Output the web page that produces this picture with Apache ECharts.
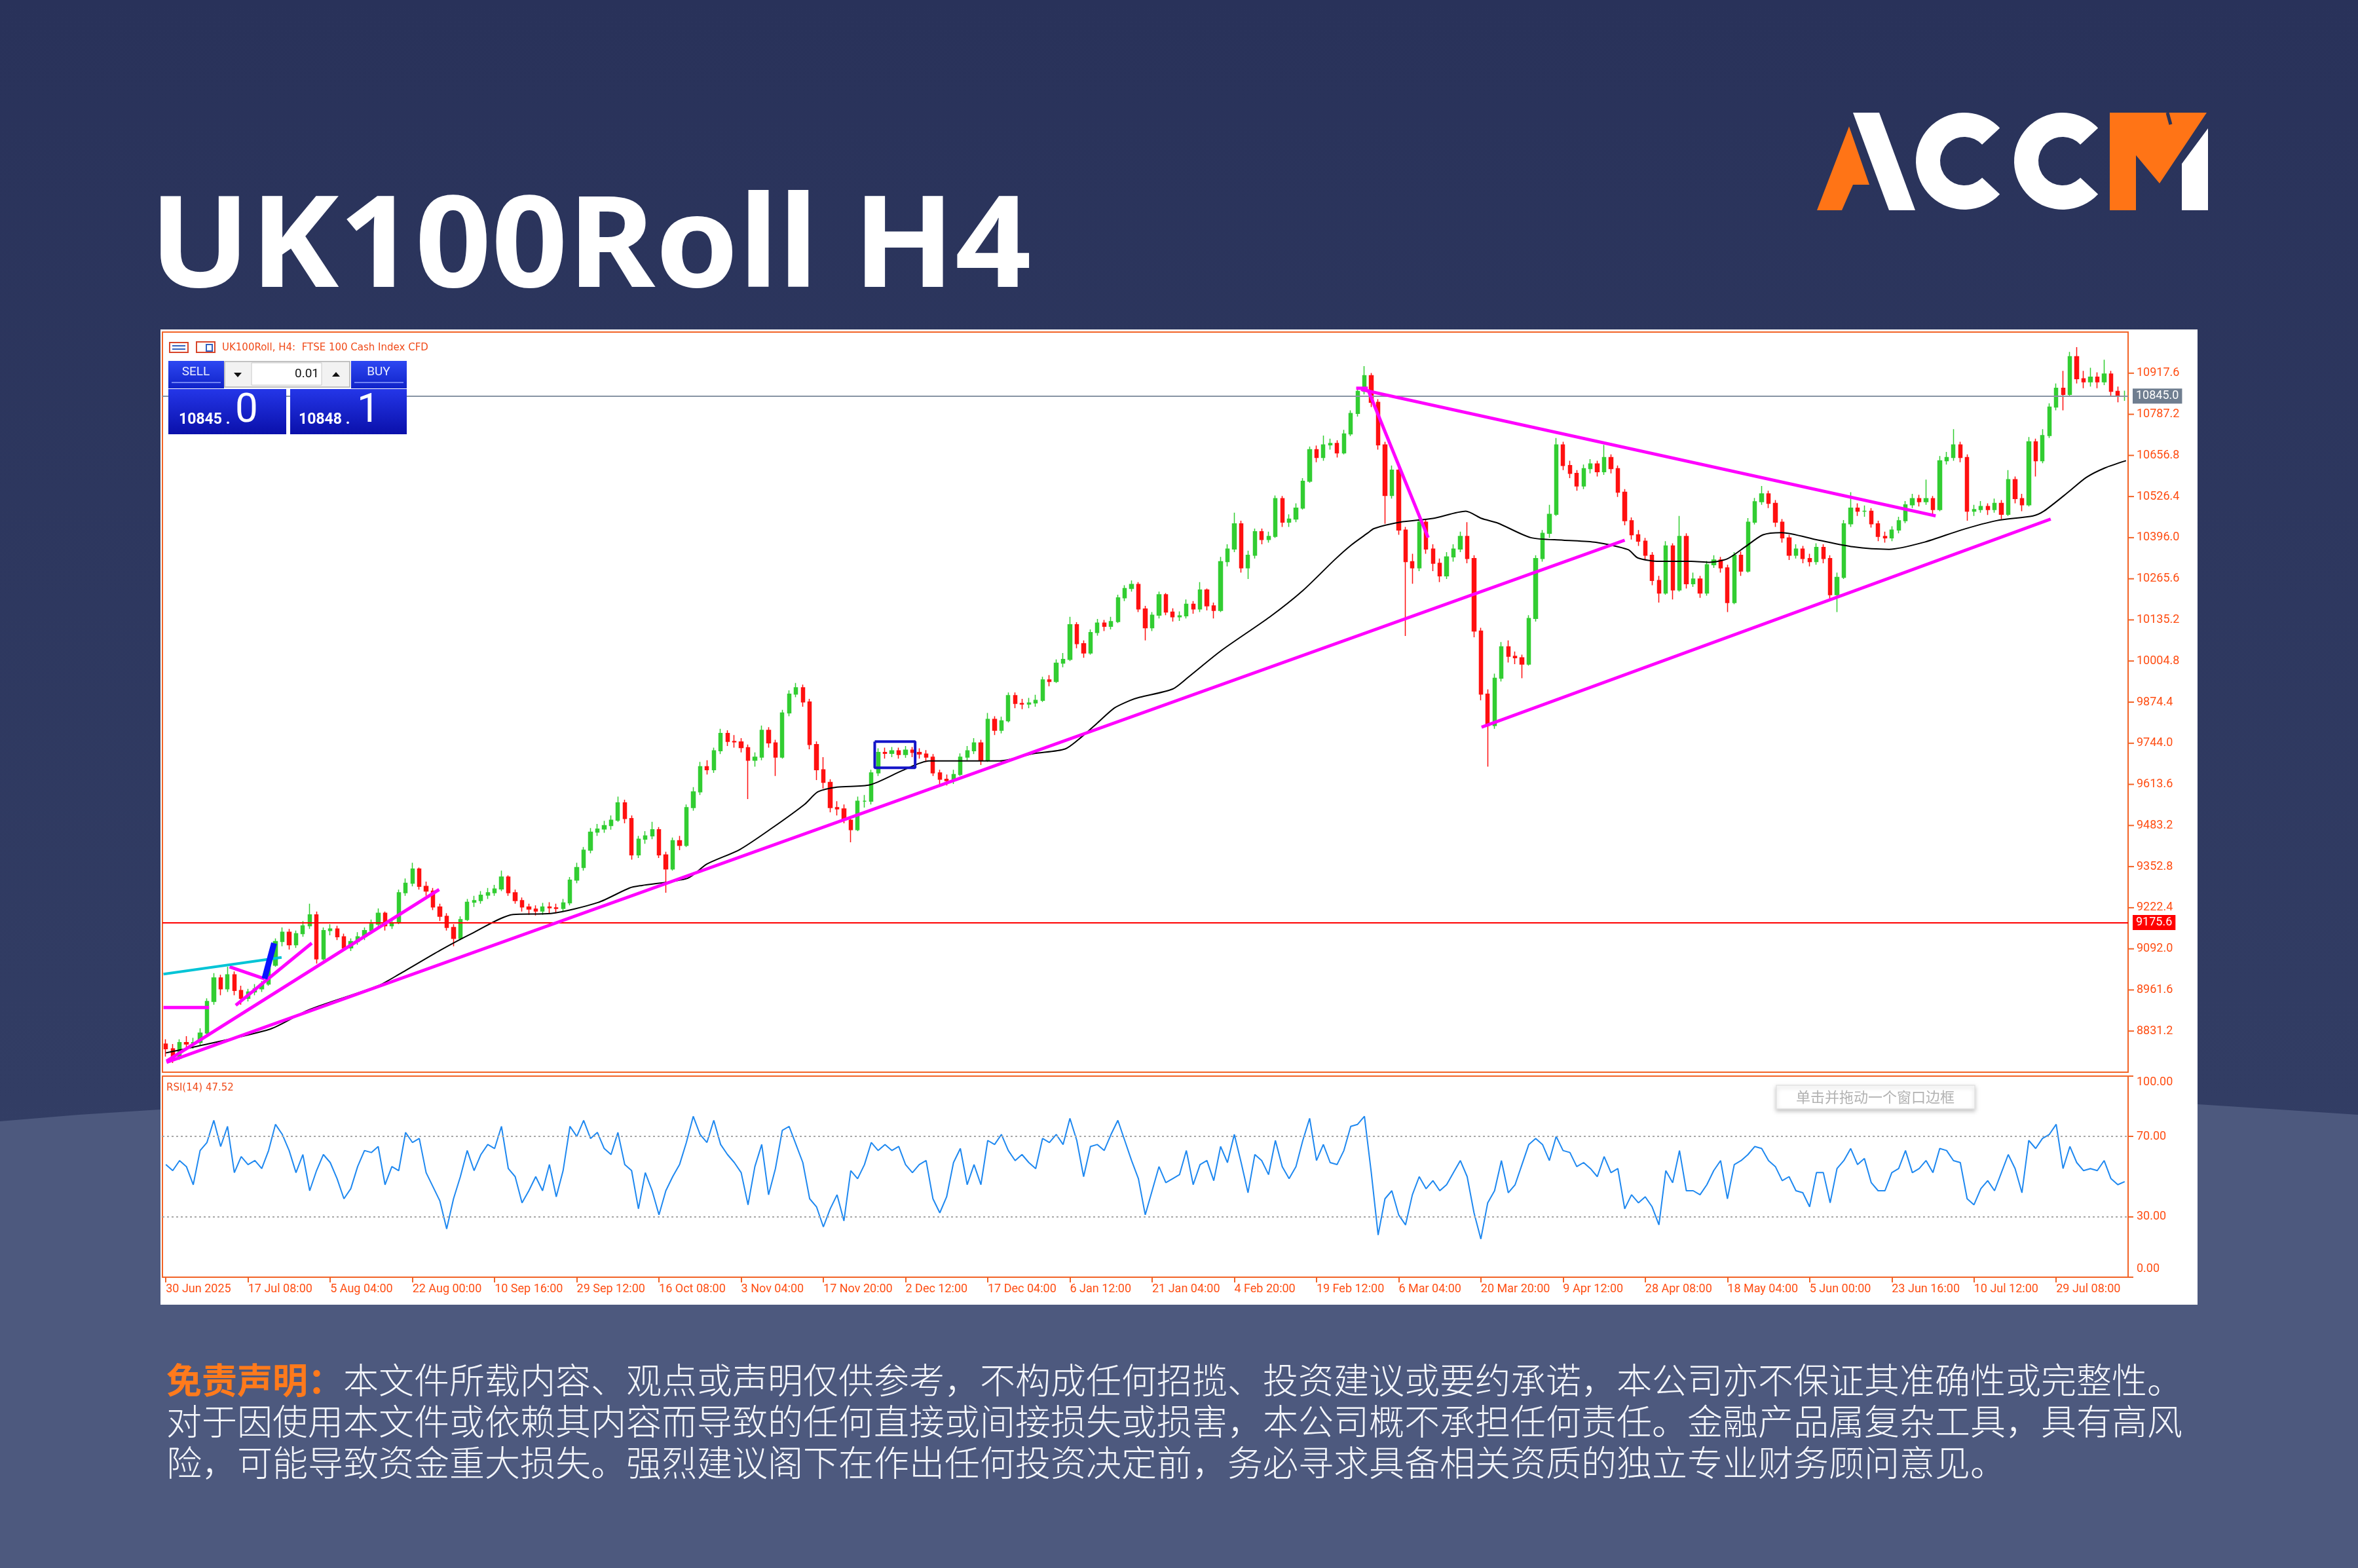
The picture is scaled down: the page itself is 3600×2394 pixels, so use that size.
<!DOCTYPE html>
<html>
<head>
<meta charset="utf-8">
<script src="https://cdn.jsdelivr.net/npm/echarts@6/dist/echarts.min.js"></script>
<style>
html, body { margin: 0; padding: 0; background: #2b3455; }
#chart { width: 3600px; height: 2394px; }
</style>
</head>
<body>
<div id="chart"></div>
<script>
// H4 candles (one bar here ~ several bars of the original)
var firstOpen = 8790;
var closes = [
  8775, 8745, 8795, 8790, 8795, 8825, 8925, 9000, 8965, 9010,
  8960, 8935, 8955, 8965, 8980, 9040, 9115, 9145, 9105, 9140,
  9165, 9200, 9060, 9150, 9155, 9130, 9095, 9115, 9130, 9150,
  9170, 9205, 9165, 9175, 9270, 9300, 9345, 9290, 9275, 9225,
  9195, 9160, 9125, 9185, 9240, 9245, 9262, 9270, 9282, 9320,
  9270, 9245, 9225, 9218, 9212, 9225, 9222, 9220, 9238, 9310,
  9350, 9405, 9462, 9472, 9483, 9500, 9555, 9505, 9390, 9440,
  9450, 9470, 9390, 9345, 9435, 9420, 9540, 9590, 9670, 9660,
  9720, 9775, 9750, 9748, 9730, 9690, 9700, 9785, 9745, 9700,
  9840, 9900, 9920, 9875, 9740, 9660, 9620, 9540, 9536, 9500,
  9470, 9560, 9560, 9650, 9715, 9712, 9720, 9708, 9722, 9715,
  9710, 9700, 9650, 9630, 9625, 9645, 9700, 9720, 9745, 9690,
  9820, 9785, 9815, 9895, 9870, 9868, 9872, 9880, 9945, 9940,
  9998, 10010, 10120, 10060, 10030, 10095, 10125, 10115, 10130, 10205,
  10235, 10248, 10170, 10110, 10150, 10215, 10160, 10145, 10148, 10185,
  10170, 10230, 10180, 10165, 10320, 10360, 10440, 10300, 10340, 10415,
  10390, 10400, 10520, 10445, 10455, 10490, 10575, 10675, 10650, 10690,
  10695, 10665, 10725, 10790, 10860, 10910, 10825, 10690, 10530, 10610,
  10420, 10320, 10300, 10445, 10360, 10315, 10275, 10335, 10360, 10400,
  10330, 10100, 9900, 9800, 9950, 10050, 10020, 10015, 9995, 10140,
  10330, 10410, 10470, 10690, 10625, 10600, 10560, 10615, 10630, 10605,
  10650, 10615, 10540, 10450, 10405, 10385, 10340, 10260, 10220, 10370,
  10230, 10400, 10250, 10265, 10220, 10310, 10325, 10300, 10190, 10340,
  10290, 10445, 10510, 10535, 10505, 10445, 10395, 10340, 10360, 10330,
  10320, 10365, 10330, 10215, 10270, 10440, 10490, 10480, 10480, 10440,
  10400, 10395, 10420, 10450, 10500, 10520, 10510, 10520, 10485, 10640,
  10650, 10690, 10650, 10480, 10485, 10495, 10485, 10505, 10470, 10580,
  10520, 10500, 10700, 10640, 10720, 10810, 10870, 10850, 10970, 10900,
  10890, 10905, 10890, 10915, 10860, 10845, 10845
];
var highs = [
  8805, 8790, 8805, 8815, 8810, 8840, 8935, 9015, 9010, 9035,
  9020, 8975, 8965, 8980, 8990, 9050, 9125, 9160, 9155, 9150,
  9180, 9235, 9210, 9160, 9170, 9165, 9140, 9125, 9145, 9160,
  9185, 9220, 9210, 9190, 9280, 9315, 9365, 9350, 9305, 9285,
  9235, 9205, 9170, 9195, 9250, 9260, 9275, 9285, 9295, 9340,
  9325, 9280, 9255, 9235, 9230, 9238, 9240, 9235, 9250, 9320,
  9365, 9415, 9475, 9488, 9498, 9515, 9575, 9565, 9515, 9450,
  9465, 9495, 9478, 9400, 9445, 9450, 9550, 9605, 9685, 9690,
  9730, 9790, 9785, 9770, 9760, 9740, 9715, 9800, 9795, 9755,
  9850, 9912, 9935, 9930, 9885, 9750, 9700, 9630, 9560, 9550,
  9510, 9575, 9580, 9660, 9728, 9730, 9732, 9730, 9735, 9732,
  9728, 9722, 9710, 9660, 9645, 9660, 9712, 9735, 9760, 9755,
  9840, 9830, 9828, 9905, 9905, 9885, 9888, 9898, 9955, 9960,
  10010, 10030, 10145, 10128, 10070, 10105, 10138, 10135, 10145, 10215,
  10245, 10260, 10255, 10180, 10160, 10225, 10220, 10172, 10162, 10200,
  10195, 10255, 10235, 10190, 10335, 10375, 10475, 10450, 10355, 10425,
  10425, 10415, 10530, 10528, 10470, 10505, 10585, 10685, 10688, 10720,
  10710, 10705, 10738, 10800, 10872, 10940, 10918, 10835, 10700, 10625,
  10620, 10430, 10345, 10460, 10455, 10375, 10330, 10350, 10375, 10415,
  10445, 10340, 10110, 9915, 9965, 10065, 10070, 10035, 10025, 10150,
  10340, 10420, 10500, 10712, 10700, 10640, 10610, 10628, 10645, 10640,
  10690, 10660, 10625, 10550, 10460, 10420, 10395, 10350, 10275, 10385,
  10378, 10465, 10410, 10285, 10275, 10322, 10340, 10335, 10310, 10350,
  10352, 10458, 10522, 10560, 10545, 10515, 10455, 10405, 10375, 10370,
  10345, 10378, 10375, 10340, 10285, 10452, 10540, 10505, 10498, 10490,
  10450, 10415, 10432, 10462, 10512, 10535, 10532, 10580, 10528, 10655,
  10668, 10740, 10700, 10660, 10500, 10512, 10505, 10520, 10515, 10610,
  10590, 10535, 10715, 10710, 10740, 10822, 10885, 10925, 10985, 11000,
  10925, 10935, 10920, 10960, 10925, 10875, 10862
];
var lows = [
  8750, 8730, 8740, 8770, 8775, 8785, 8815, 8915, 8945, 8955,
  8945, 8915, 8925, 8945, 8955, 8975, 9035, 9100, 9090, 9095,
  9130, 9155, 9045, 9055, 9135, 9120, 9085, 9085, 9105, 9120,
  9140, 9160, 9150, 9155, 9170, 9260, 9290, 9280, 9260, 9215,
  9180, 9150, 9100, 9120, 9180, 9225, 9235, 9250, 9260, 9275,
  9260, 9235, 9210, 9200, 9198, 9200, 9205, 9205, 9210, 9230,
  9300, 9340, 9395, 9450, 9460, 9470, 9495, 9490, 9375, 9380,
  9425, 9440, 9380, 9270, 9340, 9405, 9415, 9530, 9580, 9645,
  9650, 9710, 9735, 9730, 9715, 9567, 9670, 9690, 9730, 9640,
  9695, 9830, 9890, 9860, 9725, 9627, 9600, 9525, 9515, 9490,
  9430, 9465, 9540, 9550, 9640, 9695, 9700, 9695, 9698, 9700,
  9695, 9685, 9640, 9615, 9610, 9615, 9640, 9690, 9710, 9675,
  9685, 9770, 9775, 9810, 9855, 9852, 9855, 9860, 9875, 9925,
  9935, 9985, 10005, 10045, 10015, 10025, 10085, 10100, 10105, 10125,
  10195, 10225, 10160, 10070, 10100, 10140, 10150, 10130, 10132, 10140,
  10155, 10160, 10165, 10140, 10160, 10305, 10350, 10285, 10265, 10330,
  10375, 10380, 10395, 10430, 10430, 10445, 10485, 10570, 10635, 10640,
  10675, 10650, 10660, 10718, 10780, 10850, 10810, 10675, 10440, 10520,
  10405, 10084, 10250, 10290, 10345, 10290, 10255, 10265, 10320, 10350,
  10315, 10080, 9880, 9670, 9790, 9940, 10000, 9995, 9950, 9990,
  10130, 10320, 10395, 10465, 10610, 10585, 10545, 10550, 10600, 10590,
  10595, 10600, 10525, 10435, 10390, 10370, 10325, 10245, 10190, 10215,
  10200, 10225, 10235, 10240, 10205, 10212, 10300, 10285, 10160, 10185,
  10275, 10285, 10438, 10500, 10490, 10430, 10380, 10325, 10330, 10315,
  10305, 10310, 10315, 10200, 10160, 10265, 10430, 10465, 10462, 10428,
  10385, 10380, 10385, 10410, 10442, 10490, 10495, 10500, 10470, 10480,
  10628, 10640, 10635, 10450, 10465, 10475, 10468, 10475, 10455, 10465,
  10505, 10480, 10495, 10590, 10632, 10712, 10800, 10800, 10845, 10885,
  10870, 10875, 10870, 10880, 10845, 10825, 10830
];
// RSI(14) per bar
var rsi = [
  56, 53, 58, 55, 46, 63, 67, 78, 65, 75,
  52, 60, 56, 58, 54, 63, 76, 71, 63, 52,
  61, 43, 53, 61, 57, 49, 39, 44, 55, 63,
  62, 65, 46, 55, 53, 72, 67, 69, 52, 45,
  38, 24, 39, 50, 63, 53, 61, 66, 64, 75,
  54, 50, 37, 43, 50, 43, 56, 40, 53, 75,
  70, 78, 69, 72, 64, 61, 72, 56, 53, 34,
  52, 43, 31, 43, 50, 56, 67, 80, 71, 67,
  78, 66, 61, 57, 52, 36, 55, 66, 41, 54,
  73, 75, 66, 57, 39, 35, 25, 34, 41, 28,
  53, 49, 56, 67, 63, 66, 63, 65, 56, 52,
  56, 58, 39, 32, 40, 57, 64, 46, 56, 46,
  68, 66, 71, 63, 58, 61, 57, 54, 69, 67,
  71, 66, 79, 68, 50, 65, 66, 63, 71, 78,
  68, 58, 49, 31, 43, 55, 47,
  49, 51, 63,
  46, 56, 58, 48, 65, 57, 71, 57, 42, 61,
  58, 51, 68, 55, 49, 55, 68, 79, 58, 66,
  57, 56, 63, 75, 76, 80, 52, 21, 39, 43,
  31, 26, 41, 50, 44, 48, 43, 46, 52, 58,
  50, 32, 19, 37, 43, 58, 42, 46, 56, 66,
  69, 66, 58, 70, 63, 62, 55, 57, 54, 50,
  60, 52, 54, 34, 41, 37, 40, 35, 26, 53,
  47, 63, 43, 43, 41, 46, 53, 58, 39, 56,
  58, 61, 65, 64, 58, 55, 48, 50, 43, 42,
  35, 52, 52, 37, 54, 58, 64, 56, 59, 47,
  43, 43, 52, 54, 63, 52, 54, 58, 52, 64,
  63, 58, 57, 39, 36, 44, 48, 43, 52, 61,
  54, 42, 68, 64, 69, 71, 76, 54, 65, 57,
  53, 54, 53, 58, 49, 46, 47.52
];
// moving average, [bar position, price]
var maPoints = [
  [0, 8762], [3.3, 8777], [15.3, 8838], [20.8, 8898], [30.9, 8974], [34.1, 9012],
  [40.1, 9088], [44.7, 9141], [50.7, 9201], [56.2, 9204], [63.1, 9239], [67.7, 9285],
  [69.5, 9293], [76.2, 9316], [79, 9361], [83.8, 9407], [88.5, 9475], [93.3, 9551],
  [95.2, 9590], [98, 9605], [102.8, 9612], [107.6, 9658], [111.4, 9688], [117.1, 9688],
  [121.8, 9688], [126.6, 9711], [131.3, 9726], [133.7, 9764], [136.1, 9810], [138.5, 9856],
  [140.8, 9880], [142.2, 9890], [147, 9916], [149.3, 9954], [154.1, 10038], [161.2, 10145],
  [166, 10228], [170.7, 10327], [173.1, 10373], [175.5, 10411], [176.4, 10425], [180.2, 10445],
  [185, 10457], [189.8, 10480], [192.1, 10457], [194.5, 10442], [199.3, 10396], [204, 10388],
  [208.8, 10381], [213.5, 10358], [214.9, 10332], [218, 10321], [222.7, 10321], [225.4, 10318],
  [228, 10329], [230.6, 10367], [233.2, 10405], [235.9, 10412], [241.1, 10389], [246.3, 10367],
  [251.6, 10359], [256.8, 10382], [262.1, 10420], [267.3, 10450], [272.6, 10465], [274.2, 10480],
  [277.8, 10541], [280.4, 10587], [283.1, 10617], [286.2, 10640]
];
// drawn objects on the chart, [bar position, price]
var trendLines = [
  [[0.1, 8732], [213.0, 10388]],
  [[0.1, 8736], [39.9, 9280]],
  [[10.2, 8913], [21.3, 9110]],
  [[9.3, 9035], [14.4, 8997]],
  [[-0.35, 8906], [6.3, 8906]],
  [[174.5, 10866], [258.4, 10465]],
  [[175.5, 10866], [184.3, 10396]],
  [[192.1, 9795], [275.2, 10455]],
  [[173.8, 10870], [175.5, 10870]]
];
var cyanLine = [[-0.35, 9012], [16.9, 9065]];
var blueStroke = [[14.4, 8997], [15.8, 9110]];
var blueBox = [[103.5, 9749], [109.4, 9749], [109.4, 9666], [103.5, 9666], [103.5, 9749]];

var dateLabels = ['30 Jun 2025', '17 Jul 08:00', '5 Aug 04:00', '22 Aug 00:00', '10 Sep 16:00',
  '29 Sep 12:00', '16 Oct 08:00', '3 Nov 04:00', '17 Nov 20:00', '2 Dec 12:00', '17 Dec 04:00',
  '6 Jan 12:00', '21 Jan 04:00', '4 Feb 20:00', '19 Feb 12:00', '6 Mar 04:00', '20 Mar 20:00',
  '9 Apr 12:00', '28 Apr 08:00', '18 May 04:00', '5 Jun 00:00', '23 Jun 16:00', '10 Jul 12:00',
  '29 Jul 08:00'];
var labelEvery = 12;
var lastPrice = 10845.0;
var stopLevel = 9175.6;
var priceMin = 8700.8, priceMax = 11048.0, priceStep = 130.4;
var rsiLevels = [0, 30, 70, 100];

var ORANGE_LINE = '#f26326';
var ORANGE_TEXT = '#ff4d12';
var UP = '#32cd32';
var DOWN = '#ff1010';

var candles = closes.map(function (c, i) {
  return [i === 0 ? firstOpen : closes[i - 1], c, lows[i], highs[i]];
});
var cats = closes.map(function (c, i) { return String(i); });

var myChart = echarts.init(document.getElementById('chart'), null, { renderer: 'canvas' });

var overlay = function (pts, color, width, z) {
  return {
    type: 'line', xAxisIndex: 1, yAxisIndex: 0, data: pts, symbol: 'none',
    lineStyle: { color: color, width: width }, z: z || 5, silent: true, animation: false
  };
};

var series = [{
  type: 'candlestick',
  xAxisIndex: 0, yAxisIndex: 0,
  data: candles,
  barWidth: '55%',
  itemStyle: { color: UP, color0: DOWN, borderColor: UP, borderColor0: DOWN, borderWidth: 1.5 },
  markLine: {
    symbol: ['none', 'none'], silent: true, animation: false,
    data: [
      { yAxis: lastPrice, lineStyle: { color: '#8794a3', width: 2, type: 'solid' },
        label: { show: true, position: 'end', distance: 7, formatter: function (p) { return p.value.toFixed(1); },
          backgroundColor: '#6f7e90', color: '#fff', padding: [3, 5, 2, 5], fontSize: 18, fontFamily: 'Roboto' } },
      { yAxis: stopLevel, lineStyle: { color: '#ff0000', width: 2, type: 'solid' },
        label: { show: true, position: 'end', distance: 7, formatter: function (p) { return p.value.toFixed(1); },
          backgroundColor: '#ff0000', color: '#fff', padding: [3, 5, 2, 5], fontSize: 18, fontFamily: 'Roboto' } }
    ]
  }
}, {
  type: 'line', xAxisIndex: 1, yAxisIndex: 0, data: maPoints, symbol: 'none', smooth: 0.25,
  lineStyle: { color: '#000', width: 2 }, z: 4, silent: true
}, {
  type: 'line', xAxisIndex: 2, yAxisIndex: 1, data: rsi, symbol: 'none',
  lineStyle: { color: '#1e88f0', width: 2 }, silent: true,
  markLine: {
    symbol: ['none', 'none'], silent: true, animation: false, label: { show: false },
    lineStyle: { color: '#a8a8a8', width: 2, type: [3, 4] },
    data: [{ yAxis: 30 }, { yAxis: 70 }]
  }
}];
trendLines.forEach(function (seg) { series.push(overlay(seg, '#ff00ff', 5, 6)); });
series.push(overlay(cyanLine, '#00c4d6', 4, 6));
series.push(overlay(blueStroke, '#0a14ff', 9, 7));
series.push(overlay(blueBox, '#1414c8', 4, 7));

var blueGrad = function (a, b) {
  return new echarts.graphic.LinearGradient(0, 0, 0, 1, [{ offset: 0, color: a }, { offset: 1, color: b }]);
};
var txt = function (x, y, text, size, fill, extra) {
  var st = { text: text, fill: fill, fontSize: size, fontFamily: 'Roboto', verticalAlign: 'middle' };
  for (var k in extra) st[k] = extra[k];
  return { type: 'text', x: x, y: y, style: st, z: 70 };
};
var CJK = 'Noto Sans CJK SC';

// price scale: a short dash drawn in front of each label, like the terminal's tick
var tickRich = {
  t: { width: 8, height: 2, backgroundColor: ORANGE_LINE },
  v: { color: ORANGE_TEXT, fontSize: 18, fontFamily: 'Roboto', padding: [0, 0, 0, 4] },
  vt: { color: ORANGE_TEXT, fontSize: 18, fontFamily: 'Roboto', padding: [18, 0, 0, 4] },
  vb: { color: ORANGE_TEXT, fontSize: 18, fontFamily: 'Roboto', padding: [0, 0, 26, 4] }
};

var graphic = [
  // backdrop
  { type: 'rect', shape: { x: 0, y: 0, width: 3600, height: 2394 }, z: -20,
    style: { fill: new echarts.graphic.LinearGradient(0, 0, 0, 1, [
      { offset: 0, color: '#29325a' }, { offset: 0.7, color: '#323d64' }, { offset: 1, color: '#36426a' }]) } },
  { type: 'polygon', z: -19, shape: { points: [[0, 1712], [120, 1702], [244, 1694], [3356, 1686], [3480, 1694], [3600, 1702], [3600, 2394], [0, 2394]] },
    style: { fill: '#4d597e' } },
  { type: 'rect', shape: { x: 245, y: 503, width: 3110, height: 1489 }, z: -18, style: { fill: '#ffffff' } },
  // title
  { type: 'text', x: 228, y: 383, scaleX: 1.05, z: 70,
    style: { text: 'UK100Roll H4', fill: '#ffffff', fontSize: 194, fontWeight: 'bold', fontFamily: 'Noto Sans', verticalAlign: 'middle' } },
  // logo
  { type: 'polygon', z: 60, shape: { points: [[2774, 321], [2823, 193], [2854, 282], [2829, 282], [2812, 321]] }, style: { fill: '#ff7416' } },
  { type: 'polygon', z: 60, shape: { points: [[2829, 172], [2869, 172], [2924, 321], [2884, 321]] }, style: { fill: '#ffffff' } },
  { type: 'sector', z: 60, shape: { cx: 2999, cy: 246, r: 74, r0: 37, startAngle: 0.75, endAngle: 2 * Math.PI - 0.75, clockwise: true }, style: { fill: '#ffffff' } },
  { type: 'sector', z: 60, shape: { cx: 3149, cy: 246, r: 74, r0: 37, startAngle: 0.75, endAngle: 2 * Math.PI - 0.75, clockwise: true }, style: { fill: '#ffffff' } },
  { type: 'polygon', z: 60, shape: { points: [[3221, 172], [3369, 172], [3297, 280], [3261, 237], [3261, 321], [3221, 321]] }, style: { fill: '#ff7416' } },
  { type: 'line', z: 61, shape: { x1: 3309, y1: 172, x2: 3314, y2: 190 }, style: { stroke: '#2b3458', lineWidth: 5 } },
  { type: 'polygon', z: 60, shape: { points: [[3331, 250], [3371, 196], [3371, 321], [3331, 321]] }, style: { fill: '#ffffff' } },
  // chart header
  { type: 'rect', z: 60, shape: { x: 259, y: 523, width: 28, height: 15 }, style: { fill: '#fff', stroke: '#d8452a', lineWidth: 2 } },
  { type: 'line', z: 61, shape: { x1: 263, y1: 528, x2: 283, y2: 528 }, style: { stroke: '#3060c0', lineWidth: 2 } },
  { type: 'line', z: 61, shape: { x1: 263, y1: 533, x2: 283, y2: 533 }, style: { stroke: '#3060c0', lineWidth: 2 } },
  { type: 'rect', z: 60, shape: { x: 300, y: 522, width: 28, height: 16 }, style: { fill: '#fff', stroke: '#d8452a', lineWidth: 2 } },
  { type: 'rect', z: 61, shape: { x: 315, y: 526, width: 9, height: 10 }, style: { fill: '#fff', stroke: '#3060c0', lineWidth: 2 } },
  txt(339, 531, 'UK100Roll, H4:  FTSE 100 Cash Index CFD', 15, '#f04a18', { fontFamily: 'DejaVu Sans' }),
  // one-click trading panel
  { type: 'rect', z: 60, shape: { x: 257, y: 551, width: 85, height: 42 }, style: { fill: blueGrad('#2d47f2', '#1023c8') } },
  { type: 'line', z: 61, shape: { x1: 262, y1: 584, x2: 337, y2: 584 }, style: { stroke: '#8fa0ff', lineWidth: 1.5 } },
  txt(299, 568, 'SELL', 19, '#e8ecff', { align: 'center' }),
  { type: 'rect', z: 60, shape: { x: 343, y: 552, width: 191, height: 39 }, style: { fill: '#f2f2f2', stroke: '#b0b0b0', lineWidth: 1.5 } },
  { type: 'rect', z: 61, shape: { x: 384, y: 554, width: 107, height: 34 }, style: { fill: '#ffffff', stroke: '#c8c8c8', lineWidth: 1 } },
  { type: 'polygon', z: 62, shape: { points: [[357, 569], [369, 569], [363, 576]] }, style: { fill: '#111' } },
  { type: 'polygon', z: 62, shape: { points: [[507, 575], [519, 575], [513, 568]] }, style: { fill: '#111' } },
  txt(487, 571, '0.01', 19, '#111', { align: 'right' }),
  { type: 'rect', z: 60, shape: { x: 536, y: 551, width: 85, height: 42 }, style: { fill: blueGrad('#2d47f2', '#1023c8') } },
  { type: 'line', z: 61, shape: { x1: 541, y1: 584, x2: 616, y2: 584 }, style: { stroke: '#8fa0ff', lineWidth: 1.5 } },
  txt(578, 568, 'BUY', 19, '#e8ecff', { align: 'center' }),
  { type: 'rect', z: 60, shape: { x: 257, y: 594, width: 180, height: 69 }, style: { fill: blueGrad('#2436e8', '#0a10aa') } },
  { type: 'rect', z: 60, shape: { x: 443, y: 594, width: 178, height: 69 }, style: { fill: blueGrad('#2436e8', '#0a10aa') } },
  txt(273, 641, '10845 .', 23, '#ffffff', { fontWeight: 'bold' }),
  txt(359, 628, '0', 62, '#ffffff', {}),
  txt(456, 641, '10848 .', 23, '#ffffff', { fontWeight: 'bold' }),
  txt(545, 628, '1', 62, '#ffffff', {}),
  // indicator window
  txt(254, 1661, 'RSI(14) 47.52', 15, '#f04a18', { fontFamily: 'DejaVu Sans' }),
  { type: 'rect', z: 60, shape: { x: 2712, y: 1657, width: 303, height: 36 },
    style: { fill: '#ffffff', stroke: '#e2e2e2', lineWidth: 1.5, shadowBlur: 6, shadowOffsetY: 3, shadowColor: 'rgba(0,0,0,0.22)' } },
  txt(2863, 1675, '单击并拖动一个窗口边框', 22, '#b2b2b2', { align: 'center', fontFamily: CJK }),
  // disclaimer
  { type: 'text', x: 254, y: 2107, z: 70, style: {
      text: '{a|免责声明：}{b|本文件所载内容、观点或声明仅供参考，不构成任何招揽、投资建议或要约承诺，本公司亦不保证其准确性或完整性。}',
      verticalAlign: 'middle',
      rich: {
        a: { fill: '#ff7a1c', fontSize: 54, fontWeight: 'bold', fontFamily: CJK },
        b: { fill: '#f4f6fb', fontSize: 54, fontWeight: 300, fontFamily: CJK }
      } } },
  txt(254, 2170, '对于因使用本文件或依赖其内容而导致的任何直接或间接损失或损害，本公司概不承担任何责任。金融产品属复杂工具，具有高风', 54, '#f4f6fb', { fontFamily: CJK, fontWeight: 300 }),
  txt(254, 2233, '险，可能导致资金重大损失。强烈建议阁下在作出任何投资决定前，务必寻求具备相关资质的独立专业财务顾问意见。', 54, '#f4f6fb', { fontFamily: CJK, fontWeight: 300 })
];

myChart.setOption({
  animation: false,
  backgroundColor: '#2b3455',
  grid: [
    { left: 248, top: 507, width: 3001, height: 1130, show: true, backgroundColor: '#ffffff', borderColor: ORANGE_LINE, borderWidth: 2 },
    { left: 248, top: 1643, width: 3001, height: 307, show: true, backgroundColor: '#ffffff', borderColor: ORANGE_LINE, borderWidth: 2 }
  ],
  xAxis: [{
    type: 'category', gridIndex: 0, data: cats, boundaryGap: true,
    axisLine: { show: false, onZero: false }, axisTick: { show: false }, axisLabel: { show: false }, splitLine: { show: false }
  }, {
    type: 'value', gridIndex: 0, min: -0.5, max: cats.length - 0.5, show: false, position: 'top',
    axisLine: { show: false, onZero: false }, axisTick: { show: false }, axisLabel: { show: false }, splitLine: { show: false }
  }, {
    type: 'category', gridIndex: 1, data: cats, boundaryGap: true,
    axisLine: { show: true, onZero: false, lineStyle: { color: ORANGE_LINE, width: 2 } },
    axisTick: { show: true, alignWithLabel: true, length: 8, lineStyle: { color: ORANGE_LINE, width: 2 },
      interval: function (idx) { return idx % labelEvery === 0; } },
    axisLabel: {
      interval: function (idx) { return idx % labelEvery === 0; },
      formatter: function (v, idx) { return idx % labelEvery === 0 ? dateLabels[idx / labelEvery] : ''; },
      align: 'left', color: ORANGE_TEXT, fontSize: 18, fontFamily: 'Roboto', margin: 9
    },
    splitLine: { show: false }
  }],
  yAxis: [{
    type: 'value', gridIndex: 0, position: 'right', min: priceMin, max: priceMax, interval: priceStep,
    axisLine: { show: true, onZero: false, lineStyle: { color: ORANGE_LINE, width: 2 } },
    axisTick: { show: false }, minorTick: { show: false },
    axisLabel: { margin: 1, showMinLabel: false, showMaxLabel: false, rich: tickRich,
      formatter: function (v) { return '{t|}{v|' + v.toFixed(1) + '}'; } },
    splitLine: { show: false }
  }, {
    type: 'value', gridIndex: 1, position: 'right', min: 0, max: 100, interval: 10,
    axisLine: { show: true, onZero: false, lineStyle: { color: ORANGE_LINE, width: 2 } },
    axisTick: { show: true, length: 8, customValues: rsiLevels, lineStyle: { color: ORANGE_LINE, width: 2 } },
    axisLabel: { margin: 9, customValues: rsiLevels, rich: tickRich,
      formatter: function (v) {
        if (rsiLevels.indexOf(v) < 0) return '';
        var key = v === 100 ? 'vt' : (v === 0 ? 'vb' : 'v');
        return '{' + key + '|' + v.toFixed(2) + '}';
      } },
    splitLine: { show: false }
  }],
  series: series,
  graphic: { elements: graphic }
});
window.onresize = myChart.resize;
</script>
</body>
</html>
